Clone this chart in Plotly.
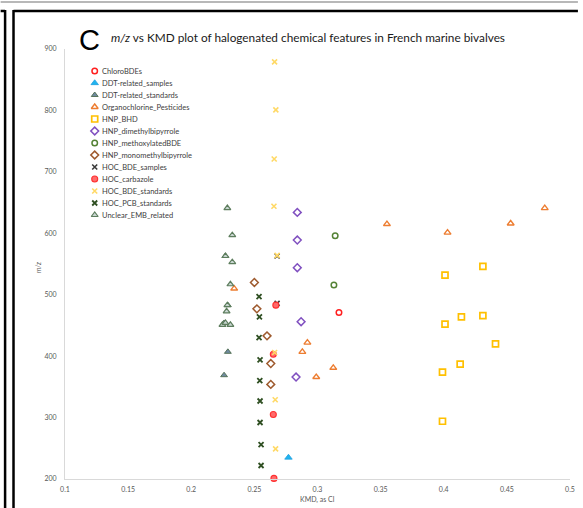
import plotly.graph_objects as go

# ---------------- data (KMD as Cl, m/z) ----------------
chloro_bde_x = [0.317]
chloro_bde_y = [471]

ddt_samples_x = [0.277]
ddt_samples_y = [235]

ddt_standards_x = [0.227, 0.229, 0.226, 0.229, 0.226]
ddt_standards_y = [563, 483, 454, 407, 369]

ocp_x = [0.234, 0.292, 0.288, 0.3125, 0.299, 0.355, 0.403, 0.453, 0.480]
ocp_y = [510, 422, 407, 381, 366, 615, 601, 616, 641]

hnp_bhd_x = [0.431, 0.401, 0.414, 0.431, 0.401, 0.441, 0.413, 0.399, 0.399]
hnp_bhd_y = [546, 532, 464, 466, 452, 420, 387, 374, 294]

hnp_dimethyl_x = [0.284, 0.284, 0.284, 0.287, 0.283]
hnp_dimethyl_y = [634, 589, 544, 456, 366]

hnp_methoxy_x = [0.314, 0.313]
hnp_methoxy_y = [596, 516]

hnp_monomethyl_x = [0.250, 0.252, 0.260, 0.263, 0.263]
hnp_monomethyl_y = [520, 477, 433, 388, 354]

hoc_bde_samples_x = [0.268, 0.268]
hoc_bde_samples_y = [563, 486]

hoc_carbazole_x = [0.267, 0.265, 0.265, 0.2655]
hoc_carbazole_y = [483, 403, 305, 201]

hoc_bde_standards_x = [0.266, 0.267, 0.2657, 0.2655, 0.268, 0.266, 0.2665, 0.2668]
hoc_bde_standards_y = [879, 801, 721, 644, 564, 406, 329, 249]

hoc_pcb_x = [0.2537, 0.254, 0.2537, 0.2545, 0.2543, 0.2545, 0.2545, 0.2553, 0.2553]
hoc_pcb_y = [497, 464, 430, 394, 360, 327, 292, 256, 222]

unclear_x = [0.2286, 0.2325, 0.2271, 0.2325, 0.231, 0.2286, 0.228, 0.2247, 0.2271, 0.231]
unclear_y = [641, 597, 563, 553, 517, 483, 473, 451, 454, 451]

x_ticks = [0.1, 0.15, 0.2, 0.25, 0.3, 0.35, 0.4, 0.45, 0.5]
x_tick_labels = ["0.1", "0.15", "0.2", "0.25", "0.3", "0.35", "0.4", "0.45", "0.5"]
y_ticks = [200, 300, 400, 500, 600, 700, 800, 900]

names = ["ChloroBDEs", "DDT-related_samples", "DDT-related_standards",
         "Organochlorine_Pesticides", "HNP_BHD", "HNP_dimethylbipyrrole",
         "HNP_methoxylatedBDE", "HNP_monomethylbipyrrole", "HOC_BDE_samples",
         "HOC_carbazole", "HOC_BDE_standards", "HOC_PCB_standards",
         "Unclear_EMB_related"]
xs = [chloro_bde_x, ddt_samples_x, ddt_standards_x, ocp_x, hnp_bhd_x, hnp_dimethyl_x,
      hnp_methoxy_x, hnp_monomethyl_x, hoc_bde_samples_x, hoc_carbazole_x,
      hoc_bde_standards_x, hoc_pcb_x, unclear_x]
ys = [chloro_bde_y, ddt_samples_y, ddt_standards_y, ocp_y, hnp_bhd_y, hnp_dimethyl_y,
      hnp_methoxy_y, hnp_monomethyl_y, hoc_bde_samples_y, hoc_carbazole_y,
      hoc_bde_standards_y, hoc_pcb_y, unclear_y]

# ---------------- styles ----------------
styles = [
    dict(symbol="circle-open", size=5.5, color="#ff2020", line=dict(width=1.5, color="#ff2020")),
    dict(symbol="triangle-up", size=6.5, color="#1fb4ef", line=dict(width=0.8, color="#1fa0e0")),
    dict(symbol="triangle-up", size=6, color="#6f8aa0", line=dict(width=0.9, color="#4d6b4d")),
    dict(symbol="triangle-up-open", size=6, color="#ed7d31", line=dict(width=1.4, color="#ed7d31")),
    dict(symbol="square-open", size=6, color="#ffc000", line=dict(width=1.7, color="#ffc000")),
    dict(symbol="diamond-open", size=6, color="#8050c0", line=dict(width=1.5, color="#8050c0")),
    dict(symbol="circle-open", size=5.5, color="#548235", line=dict(width=1.5, color="#548235")),
    dict(symbol="diamond-open", size=6, color="#9e5a2e", line=dict(width=1.5, color="#9e5a2e")),
    dict(symbol="x-thin-open", size=5, color="#3a3a3a", line=dict(width=1.6, color="#3a3a3a")),
    dict(symbol="circle", size=6, color="#ff6b6b", line=dict(width=1.1, color="#ff3030")),
    dict(symbol="x-thin-open", size=5, color="#ffd966", line=dict(width=1.6, color="#ffd966")),
    dict(symbol="x-thin-open", size=5, color="#2f4f22", line=dict(width=1.8, color="#2f4f22")),
    dict(symbol="triangle-up", size=6, color="#c9d6d2", line=dict(width=1.2, color="#5d7d5d")),
]

fig = go.Figure()
for n, x, y, st in zip(names, xs, ys, styles):
    fig.add_trace(go.Scatter(x=x, y=y, mode="markers", name=n, marker=st,
                             showlegend=False, cliponaxis=False))

# custom legend on a pixel-based overlay axis
leg_x_marker = 95
leg_x_text = 100
leg_y0 = 71
leg_dy = 12
for i, (n, st) in enumerate(zip(names, styles)):
    yy = leg_y0 + i * leg_dy
    fig.add_trace(go.Scatter(x=[leg_x_marker], y=[yy], mode="markers", marker=st,
                             xaxis="x2", yaxis="y2", showlegend=False, hoverinfo="skip",
                             cliponaxis=False))
    fig.add_annotation(x=leg_x_text, y=yy, xref="x2", yref="y2", text=n,
                       showarrow=False, xanchor="left", yanchor="middle",
                       font=dict(family="Lato", size=7.5, color="#404040"))

W, H = 583, 508
L, R, T, B = 65, 8, 49, 29

def px(v):
    return (v - L) / (W - L - R)

def py(v):
    return (H - B - v) / (H - T - B)

fig.update_layout(
    width=W, height=H,
    margin=dict(l=L, r=R, t=T, b=B, pad=0),
    paper_bgcolor="white", plot_bgcolor="white",
    xaxis=dict(range=[0.1, 0.5], tickvals=x_ticks, ticktext=x_tick_labels,
               showgrid=False, zeroline=False, showline=True, linecolor="#d9d9d9",
               linewidth=1, ticks="outside", ticklen=4, tickcolor="rgba(0,0,0,0)",
               tickfont=dict(family="Lato", size=7, color="#595959")),
    yaxis=dict(range=[200, 900], tickvals=y_ticks, showgrid=False, zeroline=False,
               showline=True, linecolor="#d9d9d9", linewidth=1, ticks="outside",
               ticklen=6, tickcolor="rgba(0,0,0,0)",
               tickfont=dict(family="Lato", size=7, color="#595959")),
    xaxis2=dict(range=[L, W - R], overlaying="x", visible=False, fixedrange=True),
    yaxis2=dict(range=[H - B, T], overlaying="y", visible=False, fixedrange=True),
    showlegend=False,
)

# titles
fig.add_annotation(x=px(90), y=py(40), xref="paper", yref="paper", text="C",
                   showarrow=False, xanchor="center", yanchor="middle",
                   font=dict(family="Liberation Sans", size=29, color="#000000"))
fig.add_annotation(x=px(109), y=py(38), xref="paper", yref="paper",
                   text="<i>m/z</i> vs KMD plot of halogenated chemical features in French marine bivalves",
                   showarrow=False, xanchor="left", yanchor="middle",
                   font=dict(family="Lato", size=11.8, color="#1a1a1a"))
fig.add_annotation(x=px(38), y=py(268), xref="paper", yref="paper", text="<i>m/z</i>",
                   showarrow=False, textangle=-90, xanchor="center", yanchor="middle",
                   font=dict(family="Lato", size=7, color="#595959"))
fig.add_annotation(x=px(320), y=py(500), xref="paper", yref="paper", text="KMD, as Cl",
                   showarrow=False, xanchor="center", yanchor="middle",
                   font=dict(family="Lato", size=7, color="#595959"))

# frame lines
fig.add_shape(type="line", xref="paper", yref="paper", x0=px(0), x1=px(W), y0=py(2), y1=py(2),
              line=dict(color="#a0a0a0", width=1.5))
fig.add_shape(type="line", xref="paper", yref="paper", x0=px(0), x1=px(4.5), y0=py(11), y1=py(11),
              line=dict(color="#000000", width=2.5))
fig.add_shape(type="line", xref="paper", yref="paper", x0=px(4.5), x1=px(4.5), y0=py(10), y1=py(H),
              line=dict(color="#000000", width=2.5))
fig.add_shape(type="line", xref="paper", yref="paper", x0=px(13), x1=px(W), y0=py(11), y1=py(11),
              line=dict(color="#000000", width=2.5))
fig.add_shape(type="line", xref="paper", yref="paper", x0=px(13), x1=px(13), y0=py(10), y1=py(H),
              line=dict(color="#000000", width=2.5))

fig.write_html("out.html", config={"displayModeBar": False},
               post_script="document.body.style.margin='0';document.body.style.overflow='hidden';")
